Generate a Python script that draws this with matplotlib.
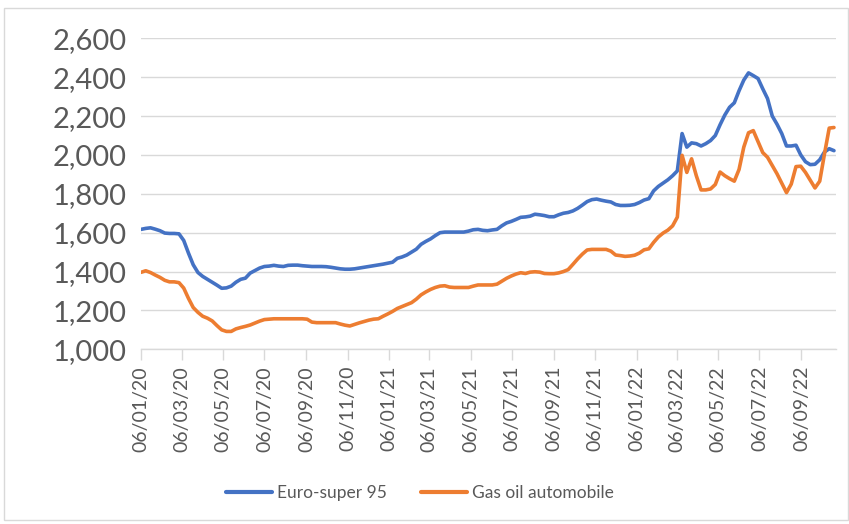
import matplotlib
matplotlib.use("Agg")
import matplotlib.pyplot as plt
import matplotlib.dates as mdates
import numpy as np
import datetime as dt
from matplotlib.patches import Rectangle

plt.rcParams['font.family'] = ['Lato', 'DejaVu Sans']

start_date = dt.date(2020, 1, 6)
n_weeks = 147
dates = [start_date + dt.timedelta(weeks=i) for i in range(n_weeks)]

euro_super_95 = [
    1617, 1622, 1625, 1618, 1610, 1598, 1596, 1596, 1594, 1560,
    1495, 1435, 1395, 1375, 1360, 1345, 1330, 1314, 1316, 1325,
    1345, 1360, 1366, 1392, 1405, 1418, 1426, 1428, 1432, 1428,
    1426, 1432, 1433, 1433, 1430, 1428, 1426, 1426, 1426, 1425,
    1422, 1418, 1414, 1412, 1412, 1414, 1418, 1422, 1426, 1430,
    1434, 1438, 1443, 1448, 1468, 1475, 1485, 1500, 1515, 1540,
    1555, 1568, 1585, 1600, 1603, 1603, 1603, 1603, 1603, 1608,
    1615, 1617, 1612, 1610, 1614, 1617, 1635, 1650, 1658, 1668,
    1679, 1681, 1685, 1695, 1692, 1688, 1682, 1682, 1692, 1700,
    1704, 1712, 1725, 1742, 1760, 1770, 1773, 1767, 1762, 1758,
    1745, 1740, 1740, 1741, 1745, 1755, 1768, 1775, 1815, 1838,
    1855, 1872, 1893, 1918, 2110, 2040, 2062, 2058, 2046, 2058,
    2074, 2100, 2155, 2205, 2245, 2268, 2330, 2385, 2422, 2408,
    2393, 2340, 2290, 2200, 2158, 2110, 2046, 2046, 2050, 2000,
    1965, 1950, 1952, 1975, 2015, 2032, 2022,
]

gas_oil_automobile = [
    1396, 1404, 1395, 1382, 1370, 1355, 1347, 1347, 1343, 1315,
    1262, 1215, 1190, 1170, 1160, 1146, 1122, 1100, 1092, 1092,
    1105, 1112, 1118, 1125, 1135, 1145, 1153, 1155, 1157, 1157,
    1157, 1157, 1157, 1157, 1157, 1155, 1140, 1137, 1137, 1137,
    1137, 1137, 1130, 1124, 1120, 1128, 1136, 1143, 1150, 1155,
    1157, 1170, 1182, 1195, 1210, 1220, 1230, 1240, 1258, 1280,
    1295, 1308, 1318, 1325, 1327, 1320, 1318, 1318, 1318, 1318,
    1325, 1331, 1331, 1331, 1331, 1335, 1350, 1365, 1377, 1387,
    1394, 1390, 1397, 1399, 1397, 1390, 1389, 1389, 1393, 1400,
    1410, 1437, 1465, 1490, 1511, 1514, 1514, 1514, 1514, 1505,
    1485, 1482, 1478, 1480, 1484, 1495, 1512, 1517, 1550, 1578,
    1598, 1613, 1635, 1680, 1998, 1910, 1980, 1893, 1820, 1820,
    1825, 1848, 1912, 1893, 1878, 1865, 1925, 2040, 2114, 2125,
    2068, 2012, 1988, 1945, 1903, 1855, 1806, 1850, 1940, 1942,
    1910, 1870, 1830, 1865, 2005, 2138, 2141,
]

series_names = ["Euro-super 95", "Gas oil automobile"]
series_colors = ["#4472C4", "#ED7D31"]
y_ticks = [1000, 1200, 1400, 1600, 1800, 2000, 2200, 2400, 2600]
x_tick_dates = [dt.date(2020, 1, 6) + dt.timedelta(0)]
x_tick_dates = []
for y in (2020, 2021, 2022):
    for m in (1, 3, 5, 7, 9, 11):
        d = dt.date(y, m, 6)
        if d <= dt.date(2022, 9, 6):
            x_tick_dates.append(d)

W, H = 849, 524
fig = plt.figure(figsize=(W / 100, H / 100), dpi=100)
fig.patch.set_facecolor("white")
fig.patches.append(Rectangle((4 / W, 1 - 520 / H), 844 / W, 512 / H,
                             transform=fig.transFigure, fill=False,
                             edgecolor="#D9D9D9", linewidth=1.0))

ax = fig.add_axes([141 / W, 1 - 349.3 / H, (836 - 141) / W, (349.3 - 38.3) / H])
for vals, name, col in zip([euro_super_95, gas_oil_automobile], series_names, series_colors):
    ax.plot(dates, vals, color=col, linewidth=2.6, label=name,
            solid_capstyle="round", solid_joinstyle="round")

ax.set_ylim(1000, 2600)
ax.set_yticks(y_ticks)
ax.set_yticklabels([f"{v:,}" for v in y_ticks], fontsize=21, color="#595959")
ax.set_xlim(start_date, start_date + dt.timedelta(days=1025))
ax.set_xticks(x_tick_dates)
ax.xaxis.set_major_formatter(mdates.DateFormatter("%d/%m/%y"))
for lab in ax.get_xticklabels():
    lab.set_rotation(90)
    lab.set_fontsize(14)
    lab.set_color("#595959")

ax.grid(axis="y", color="#D9D9D9", linewidth=1.0)
ax.set_axisbelow(True)
for s in ("top", "right", "left"):
    ax.spines[s].set_visible(False)
ax.spines["bottom"].set_color("#D9D9D9")
ax.spines["bottom"].set_linewidth(1.0)
ax.tick_params(axis="y", length=0, pad=10)
ax.tick_params(axis="x", length=8, width=1, color="#D9D9D9", direction="out", pad=4)

leg = fig.legend(loc="center", bbox_to_anchor=(420 / W, 1 - 493 / H), ncol=2,
                 frameon=False, fontsize=12.5, handlelength=2.6,
                 columnspacing=2.0, handletextpad=0.3, labelcolor="#595959")
for line in leg.get_lines():
    line.set_linewidth(3)

fig.savefig("out.png", dpi=100, facecolor="white")
